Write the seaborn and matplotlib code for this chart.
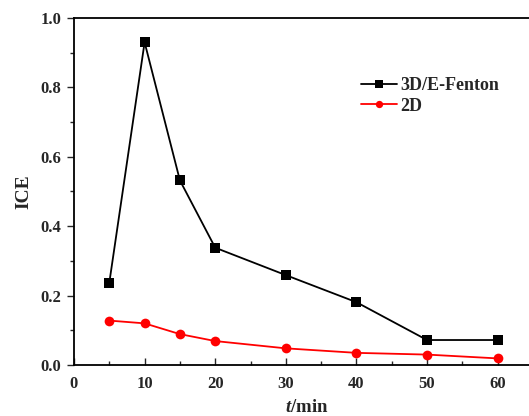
import matplotlib
matplotlib.use("Agg")
import matplotlib.pyplot as plt
import seaborn as sns
import pandas as pd
from matplotlib.ticker import MultipleLocator, FormatStrFormatter

time_min = [5, 10, 15, 20, 30, 40, 50, 60]
ice_3d = [0.237, 0.93, 0.532, 0.338, 0.259, 0.181, 0.072, 0.072]
ice_2d = [0.128, 0.120, 0.089, 0.069, 0.048, 0.035, 0.030, 0.019]
series_names = ["3D/E-Fenton", "2D"]

df = pd.concat([
    pd.DataFrame({"t": time_min, "ICE": ice_3d, "series": series_names[0]}),
    pd.DataFrame({"t": time_min, "ICE": ice_2d, "series": series_names[1]}),
])

sns.set_style("ticks")
plt.rcParams["font.family"] = ["Liberation Serif", "DejaVu Serif"]
plt.rcParams["font.weight"] = "bold"
plt.rcParams["mathtext.fontset"] = "custom"
plt.rcParams["mathtext.it"] = "Liberation Serif:italic:bold"
plt.rcParams["mathtext.rm"] = "Liberation Serif:bold"

fig = plt.figure(figsize=(5.29, 4.16), dpi=100)
ax = fig.add_axes([74/529, 51/416, 466/529, 347/416])

sns.lineplot(data=df, x="t", y="ICE", hue="series", style="series",
             palette={series_names[0]: "black", series_names[1]: "#ff0000"},
             markers={series_names[0]: "s", series_names[1]: "o"},
             dashes=False, markersize=7, linewidth=1.3, markeredgewidth=0,
             ax=ax)

ax.set_xlim(0, 66)
ax.set_ylim(0, 1.0)
ax.xaxis.set_major_locator(MultipleLocator(10))
ax.xaxis.set_minor_locator(MultipleLocator(5))
ax.yaxis.set_major_locator(MultipleLocator(0.2))
ax.yaxis.set_minor_locator(MultipleLocator(0.1))
ax.yaxis.set_major_formatter(FormatStrFormatter("%.1f"))
ax.tick_params(axis="x", which="both", direction="in", labelsize=12, pad=8)
ax.tick_params(axis="x", which="major", length=5, width=1)
ax.tick_params(axis="x", which="minor", length=3, width=1)
ax.tick_params(axis="y", which="both", direction="out", labelsize=12, pad=4)
ax.tick_params(axis="y", which="major", length=5, width=1)
ax.tick_params(axis="y", which="minor", length=3, width=1)
for lab in ax.get_xticklabels() + ax.get_yticklabels():
    lab.set_fontweight("bold")
for s in ax.spines.values():
    s.set_linewidth(1.3)
    s.set_color("black")

ax.set_xlabel(r"$t$/min", fontsize=13.5, fontweight="bold", labelpad=5)
ax.set_ylabel("ICE", fontsize=14, fontweight="bold", labelpad=6)

leg = ax.legend(loc="upper left", bbox_to_anchor=(0.615, 0.83), frameon=False,
                fontsize=13, handlelength=2.0, handletextpad=0.2,
                labelspacing=0.2, borderaxespad=0, borderpad=0,
                markerscale=0.75)
for t in leg.get_texts():
    t.set_fontweight("bold")

fig.savefig("out.png", dpi=100)
